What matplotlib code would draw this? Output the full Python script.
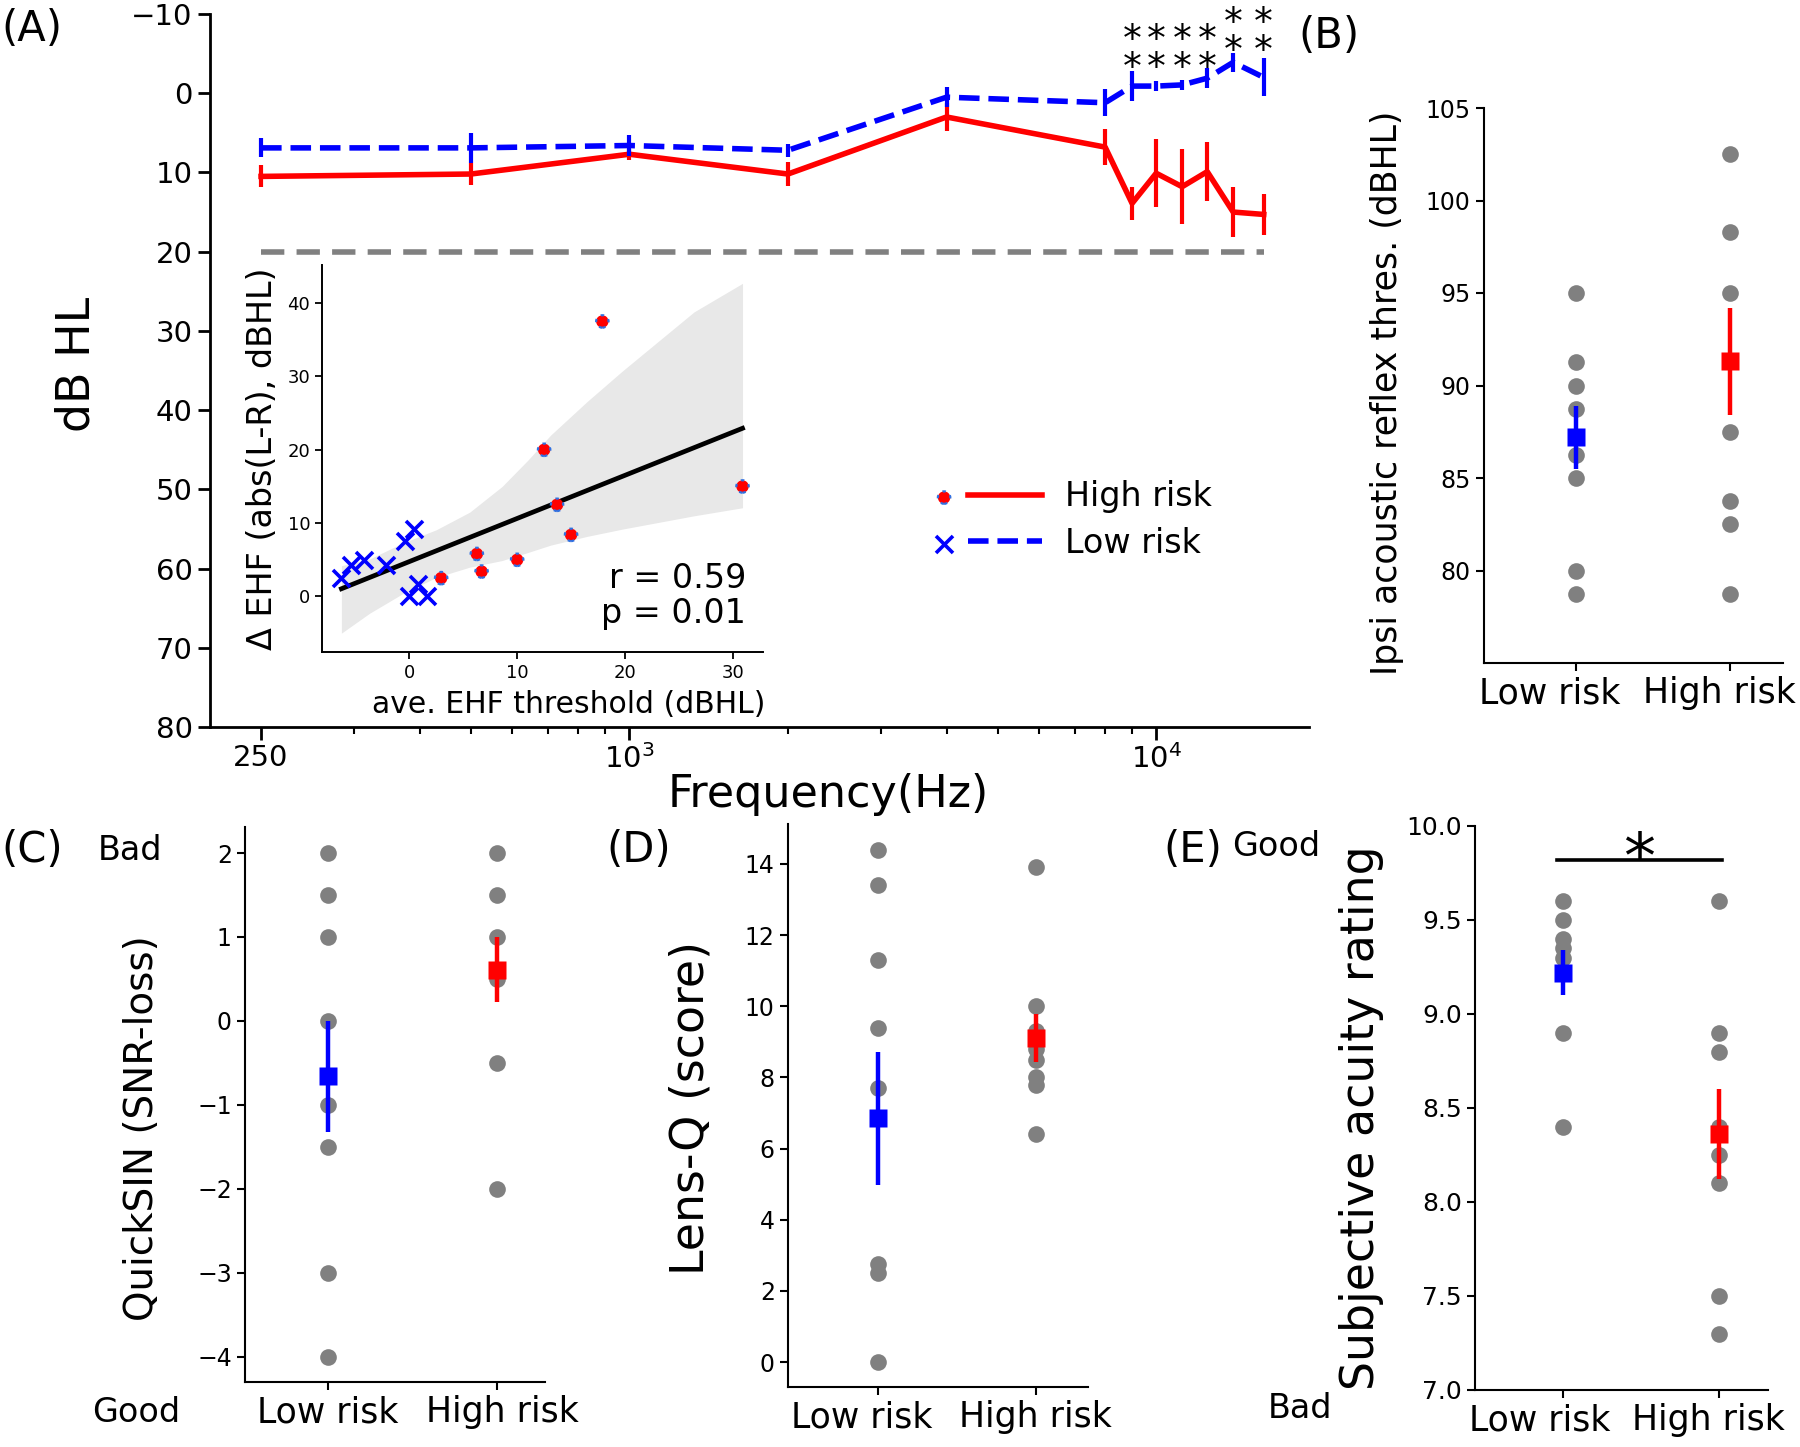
import matplotlib
matplotlib.use("Agg")
import matplotlib.pyplot as plt
import numpy as np
from matplotlib.lines import Line2D
from matplotlib.legend_handler import HandlerTuple
from matplotlib.ticker import FixedLocator, LogLocator, NullFormatter, FormatStrFormatter

plt.rcParams['font.family'] = ['DejaVu Sans']

# ---------------- data ----------------
# (A) audiogram; first point sits at the "250" tick, which in the original is drawn at 200 on the log axis
freqs = [200, 500, 1000, 2000, 4000, 8000, 9000, 10000, 11200, 12500, 14000, 16000]
high_thr = [10.5, 10.2, 7.7, 10.2, 3.0, 6.8, 13.9, 10.1, 11.8, 9.9, 15.0, 15.3]
high_err = [1.4, 1.4, 0.7, 1.5, 1.8, 2.3, 2.1, 4.3, 4.7, 3.7, 3.1, 2.6]
low_thr = [6.9, 6.9, 6.6, 7.2, 0.5, 1.2, -0.9, -0.9, -1.05, -1.9, -3.9, -2.0]
low_err = [1.2, 1.9, 1.3, 0.8, 1.3, 1.7, 1.9, 0.6, 0.6, 1.3, 1.2, 2.4]
normal_limit = 20
star_freqs = [9000, 10000, 11200, 12500, 14000, 16000]
star_mid = [-6.35, -6.35, -6.35, -6.35, -8.45, -8.45]   # middle of each "**" column

# (A) inset: EHF asymmetry vs. average EHF threshold
ehf_low_x = [-6.3, -5.4, -4.2, -2.15, -0.43, 0.46, 0.0, 0.83, 1.66]
ehf_low_y = [2.5, 4.3, 5.0, 4.3, 7.6, 9.2, 0.0, 1.7, 0.0]
ehf_high_x = [2.95, 6.26, 6.7, 10.0, 12.5, 13.7, 15.0, 17.9, 30.9]
ehf_high_y = [2.5, 5.8, 3.4, 5.0, 20.0, 12.5, 8.4, 37.5, 15.0]
ci_x = [-6.3, -3.7, -0.6, 2.5, 5.6, 8.6, 11.0, 13.1, 16.5, 19.8, 23.1, 26.4, 30.9]
ci_hi = [4.2, 5.1, 7.3, 9.1, 11.5, 15.0, 18.6, 22.0, 26.6, 30.8, 34.8, 38.8, 42.7]
ci_lo = [-5.0, -2.3, 0.4, 2.6, 4.0, 4.9, 6.0, 7.0, 8.2, 9.2, 10.1, 11.0, 12.1]

groups = ['Low risk', 'High risk']

# (B) ipsi acoustic reflex threshold
reflex_low = [95.0, 91.25, 90.0, 88.75, 86.25, 85.0, 80.0, 78.75]
reflex_high = [102.5, 98.3, 95.0, 87.5, 83.75, 82.5, 78.75]
reflex_mean = [87.2, 91.3]
reflex_sem = [1.7, 2.9]

# (C) QuickSIN
quicksin_low = [2, 1.5, 1, 0, -1, -1.5, -3, -4]
quicksin_high = [2, 1.5, 1, 0.5, -0.5, -2]
quicksin_mean = [-0.66, 0.61]
quicksin_sem = [0.66, 0.39]

# (D) Lens-Q
lensq_low = [14.4, 13.4, 11.3, 9.4, 7.7, 2.75, 2.5, 0.0]
lensq_high = [13.9, 10.0, 9.3, 8.8, 8.5, 8.0, 7.8, 6.4]
lensq_mean = [6.85, 9.1]
lensq_sem = [1.87, 0.67]

# (E) subjective acuity rating
acuity_low = [9.6, 9.5, 9.4, 9.35, 9.3, 8.9, 8.4]
acuity_high = [9.6, 8.9, 8.8, 8.4, 8.25, 8.1, 7.5, 7.3]
acuity_mean = [9.22, 8.36]
acuity_sem = [0.12, 0.24]
acuity_sig_y = 9.82

W, H = 1800, 1447
fig = plt.figure(figsize=(18, 14.47), dpi=100)


def rect(l, t, r, b):
    # pixel box -> figure fraction
    return [l / W, 1 - b / H, (r - l) / W, (b - t) / H]


def ftext(x, y, s, size, **kw):
    fig.text(x / W, 1 - y / H, s, fontsize=size, ha='center', va='center', **kw)


def stars(ax, x, y, s, size, ls=0.72):
    # glyph centre of '*' sits ~0.315em above the centre of the text box
    ax.annotate(s, xy=(x, y), xytext=(0, -0.315 * size), textcoords='offset points',
                ha='center', va='center', fontsize=size, linespacing=ls)


# ---------------- (A) ----------------
ax = fig.add_axes(rect(210, 14, 1309, 727))
ax.plot(freqs, high_thr, color='red', lw=4, zorder=3)
ax.errorbar(freqs, high_thr, yerr=high_err, fmt='none', ecolor='red', elinewidth=3, capsize=0, zorder=3)
ax.plot(freqs, low_thr, color='blue', lw=4, ls='--', zorder=3)
ax.errorbar(freqs, low_thr, yerr=low_err, fmt='none', ecolor='blue', elinewidth=3, capsize=0, zorder=3)
ax.plot([freqs[0], freqs[-1]], [normal_limit, normal_limit], color='gray', lw=4, dashes=(4.2, 2.2))
for f, y in zip(star_freqs, star_mid):
    stars(ax, f, y, '*\n*', 27)
ax.set_xscale('log')
ax.set_xlim(160, 19500)
ax.set_ylim(80, -10)
ax.set_yticks(np.arange(-10, 81, 10))
ax.xaxis.set_major_locator(FixedLocator([200, 1000, 10000]))
ax.set_xticklabels(['250', '$10^3$', '$10^4$'])
ax.xaxis.set_minor_locator(LogLocator(subs=np.arange(2, 10)))
ax.xaxis.set_minor_formatter(NullFormatter())
ax.tick_params(which='major', labelsize=21, length=9, width=2)
ax.tick_params(which='minor', length=5, width=1.5)
for s in ['top', 'right']:
    ax.spines[s].set_visible(False)
for s in ['left', 'bottom']:
    ax.spines[s].set_linewidth(2)
ax.set_ylabel('dB HL', fontsize=33, va='center')
ax.yaxis.set_label_coords(-0.121, 0.508)
ax.set_xlabel('Frequency(Hz)', fontsize=32, va='center')
ax.xaxis.set_label_coords(0.563, -0.094)

# inset
axi = fig.add_axes(rect(322, 265, 763, 652))
axi.fill_between(ci_x, ci_lo, ci_hi, color='#e8e8e8', lw=0, zorder=1)
all_x = np.array(ehf_low_x + ehf_high_x)
all_y = np.array(ehf_low_y + ehf_high_y)
k, b0 = np.polyfit(all_x, all_y, 1)
xl = np.array([all_x.min(), all_x.max()])
axi.plot(xl, k * xl + b0, color='black', lw=3.4, zorder=3)
hi_pts = axi.scatter(ehf_high_x, ehf_high_y, s=80, color='red', edgecolors='#3070e0',
                     linewidths=1.6, linestyles=(0, (1.5, 2.5)), zorder=4)
lo_pts = axi.scatter(ehf_low_x, ehf_low_y, s=150, marker='x', color='blue', linewidths=2.6, zorder=4)
axi.set_xlim(-8.1, 32.8)
axi.set_ylim(-7.57, 45.2)
axi.set_xticks([0, 10, 20, 30])
axi.set_yticks([0, 10, 20, 30, 40])
axi.tick_params(labelsize=13, length=5, width=1.3)
axi.patch.set_alpha(0)
for s in ['top', 'right']:
    axi.spines[s].set_visible(False)
for s in ['left', 'bottom']:
    axi.spines[s].set_linewidth(1.4)
axi.set_ylabel('Δ EHF (abs(L-R), dBHL)', fontsize=24, va='center')
axi.yaxis.set_label_coords(-0.136, 0.5)
axi.set_xlabel('ave. EHF threshold (dBHL)', fontsize=21.5, va='center')
axi.xaxis.set_label_coords(0.56, -0.135)
axi.text(0.962, 0.145, 'r = 0.59\np = 0.01', transform=axi.transAxes, fontsize=24,
         ha='right', va='center', linespacing=1.05)

# legend for (A)
red_line = Line2D([], [], color='red', lw=4)
blue_line = Line2D([], [], color='blue', lw=4, ls='--')
ax.legend([(hi_pts, red_line), (lo_pts, blue_line)], ['High risk', 'Low risk'],
          handler_map={tuple: HandlerTuple(ndivide=None, pad=-0.4)},
          loc='center left', bbox_to_anchor=(907 / W, 1 - 520 / H), bbox_transform=fig.transFigure,
          frameon=False, fontsize=24, handlelength=4.05, handletextpad=0.7,
          borderpad=0, borderaxespad=0, labelspacing=0.4, scatterpoints=1)


# ---------------- group panels ----------------
def group_panel(box, low, high, mean, sem, xlim, ylim, yticks, tick_size, ylabel, ylab_size, ylab_xy,
                label_shift=(0, 0)):
    a = fig.add_axes(rect(*box))
    a.plot(np.zeros(len(low)), low, 'o', color='gray', ms=12, mec='none', zorder=2)
    a.plot(np.ones(len(high)), high, 'o', color='gray', ms=12, mec='none', zorder=2)
    for i, c in enumerate(['blue', 'red']):
        a.errorbar(i, mean[i], yerr=sem[i], fmt='s', color=c, ms=13, mec='none',
                   elinewidth=3.2, capsize=0, zorder=3)
    a.set_xlim(*xlim)
    a.set_ylim(*ylim)
    a.set_yticks(yticks)
    # tick marks at the groups; the category names in the original sit a little left of them,
    # so they go on tick-less minor positions
    a.xaxis.remove_overlapping_locs = False
    a.set_xticks([0, 1], ['', ''])
    a.set_xticks([0 + label_shift[0], 1 + label_shift[1]], groups, minor=True)
    a.tick_params(axis='y', labelsize=tick_size, length=6, width=1.5)
    a.tick_params(axis='x', which='major', length=6, width=1.5)
    a.tick_params(axis='x', which='minor', length=0, pad=3.5 + 6, labelsize=25)
    for s in ['top', 'right']:
        a.spines[s].set_visible(False)
    for s in ['left', 'bottom']:
        a.spines[s].set_linewidth(1.5)
    a.set_ylabel(ylabel, fontsize=ylab_size, va='center')
    a.yaxis.set_label_coords(*ylab_xy)
    return a


ax_b = group_panel((1484, 108, 1783, 663), reflex_low, reflex_high, reflex_mean, reflex_sem,
                   (-0.597, 1.344), (75, 105), np.arange(80, 106, 5), 17,
                   'Ipsi acoustic reflex thres. (dBHL)', 25, (-0.324, 0.486), (-0.17, -0.07))
ax_c = group_panel((245, 827, 545, 1382), quicksin_low, quicksin_high, quicksin_mean, quicksin_sem,
                   (-0.49, 1.284), (-4.3, 2.31), np.arange(-4, 3, 1), 17,
                   'QuickSIN (SNR-loss)', 28, (-0.343, 0.458), (0, 0.03))
ax_d = group_panel((788, 824, 1088, 1387), lensq_low, lensq_high, lensq_mean, lensq_sem,
                   (-0.57, 1.33), (-0.7, 15.12), np.arange(0, 15, 2), 17,
                   'Lens-Q (score)', 33, (-0.323, 0.496), (-0.1, 0))
ax_e = group_panel((1475, 826, 1768, 1390), acuity_low, acuity_high, acuity_mean, acuity_sem,
                   (-0.564, 1.314), (7.0, 10.0), np.arange(7.0, 10.01, 0.5), 18,
                   'Subjective acuity rating', 33, (-0.389, 0.482), (-0.15, -0.07))
ax_e.yaxis.set_major_formatter(FormatStrFormatter('%.1f'))
ax_e.plot([-0.04, 1.02], [acuity_sig_y, acuity_sig_y], color='black', lw=2.6)
stars(ax_e, 0.49, acuity_sig_y + 0.105, '*', 46)

# panel letters and Good/Bad annotations
ftext(32, 29, '(A)', 30)
ftext(1329, 36, '(B)', 30)
ftext(32, 850, '(C)', 30)
ftext(639, 850, '(D)', 30)
ftext(1193, 850, '(E)', 30)
ftext(130, 850, 'Bad', 24)
ftext(136, 1412, 'Good', 24)
ftext(1276, 847, 'Good', 24)
ftext(1300, 1408, 'Bad', 24)

fig.savefig('out.png', dpi=100)
